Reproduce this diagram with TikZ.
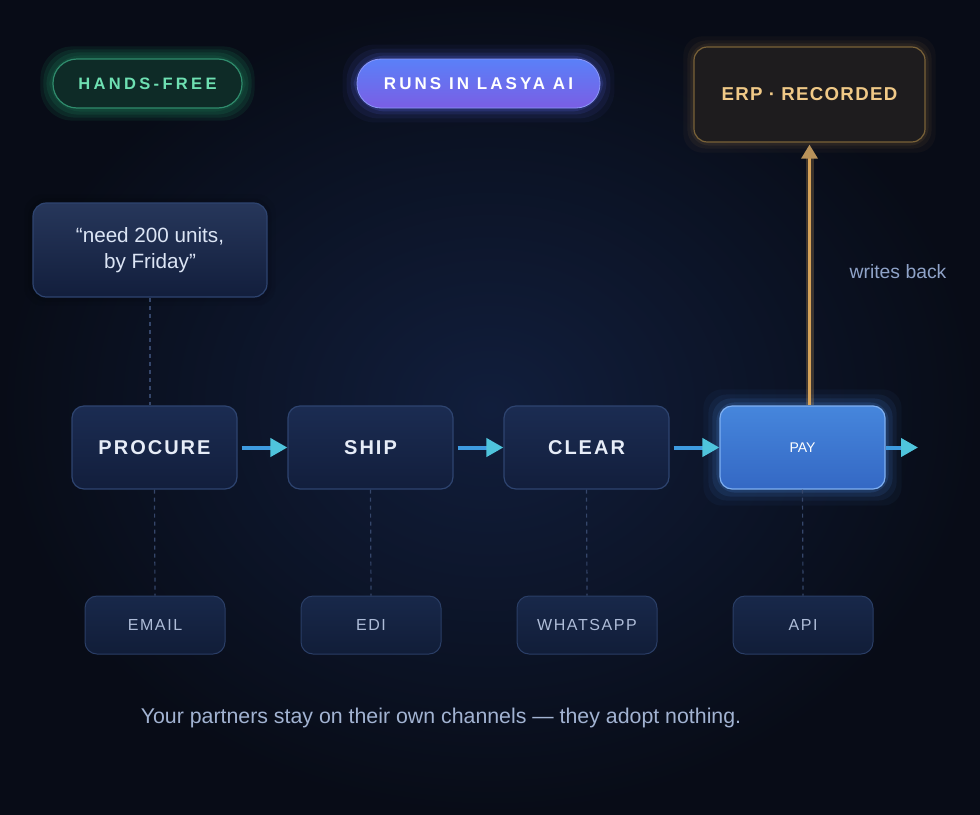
\documentclass[tikz,border=0pt]{standalone}
\usepackage{fontspec}
\setmainfont{Liberation Sans}
\usetikzlibrary{arrows.meta,calc}
\definecolor{bgin}{HTML}{111E3C}
\definecolor{bgout}{HTML}{080C17}
\definecolor{procfillA}{HTML}{1B2C52}
\definecolor{procfillB}{HTML}{121E3C}
\definecolor{procborder}{HTML}{2E4470}
\definecolor{proctext}{HTML}{E6ECF7}
\definecolor{chanfillA}{HTML}{18284A}
\definecolor{chanfillB}{HTML}{111D38}
\definecolor{chanborder}{HTML}{2A3E66}
\definecolor{chantext}{HTML}{AEBCD8}
\definecolor{payA}{HTML}{4686DC}
\definecolor{payB}{HTML}{3468C4}
\definecolor{payborder}{HTML}{7FB0F2}
\definecolor{flowline}{HTML}{3E9BE0}
\definecolor{flowtip}{HTML}{4FC4DC}
\definecolor{dotline}{HTML}{35466A}
\definecolor{hfFill}{HTML}{0E2B27}
\definecolor{hfBorder}{HTML}{2F8B6C}
\definecolor{hfText}{HTML}{6EE0B2}
\definecolor{hfGlow}{HTML}{124A3A}
\definecolor{runA}{HTML}{5A80F8}
\definecolor{runB}{HTML}{7A5EE4}
\definecolor{runGlow}{HTML}{5B6CF5}
\definecolor{erpFill}{HTML}{1E1C1E}
\definecolor{erpBorder}{HTML}{7A6238}
\definecolor{erpText}{HTML}{F0C987}
\definecolor{erpLine}{HTML}{D6A35A}
\definecolor{erpTip}{HTML}{B8925A}
\definecolor{noteText}{HTML}{8FA3C8}
\definecolor{footText}{HTML}{A2B3D2}
\definecolor{quoteText}{HTML}{DCE5F5}
\pgfdeclarelayer{back}
\pgfdeclarelayer{glow}
\pgfsetlayers{back,glow,main}
\tikzset{
  procbox/.style={draw=procborder, line width=0.9pt, top color=procfillA, bottom color=procfillB,
    rounded corners=9pt, minimum width=123.75pt, minimum height=62.25pt, inner sep=0pt,
    text=proctext, font=\fontsize{15}{18}\selectfont\bfseries\addfontfeatures{LetterSpace=10}},
  paybox/.style={procbox, draw=payborder, top color=payA, bottom color=payB, text=white,
    font=\fontsize{10.5}{12}\selectfont},
  chanbox/.style={draw=chanborder, line width=0.75pt, top color=chanfillA, bottom color=chanfillB,
    rounded corners=9pt, minimum width=105pt, minimum height=43.5pt, inner sep=0pt,
    text=chantext, font=\fontsize{12}{14}\selectfont\addfontfeatures{LetterSpace=10}},
  flow/.style={line width=3pt, flowline, -{Triangle[length=12.75pt,width=13.5pt,color=flowtip]}},
  dotted link/.style={dotline, line width=0.9pt, dash pattern=on 3pt off 3pt},
}
\begin{document}
\begin{tikzpicture}[x=0.75pt,y=-0.75pt]
\useasboundingbox (0,0) rectangle (980,814);
\begin{pgfonlayer}{back}
\shade[inner color=bgin, outer color=bgout] (0,0) rectangle (980,814);
\end{pgfonlayer}

% pills
\node[draw=hfBorder, line width=0.9pt, fill=hfFill, rounded corners=18pt, minimum width=141.75pt,
  minimum height=36.75pt, inner sep=0pt, text=hfText,
  font=\fontsize{12.4}{14}\selectfont\bfseries\addfontfeatures{LetterSpace=20}] (hands) at (147.5,83.5) {HANDS-FREE};
\node[draw=runGlow!70!white, line width=0.6pt, top color=runA, bottom color=runB, rounded corners=18pt,
  minimum width=182.25pt, minimum height=36.75pt, inner sep=0pt, text=white,
  font=\fontsize{12.75}{14}\selectfont\bfseries\addfontfeatures{LetterSpace=18}] (runs) at (478.5,83.5) {RUNS IN LASYA AI};
\node[draw=erpBorder, line width=0.9pt, fill=erpFill, rounded corners=10pt, minimum width=173.25pt,
  minimum height=71.25pt, inner sep=0pt, text=erpText,
  font=\fontsize{14}{16}\selectfont\bfseries\addfontfeatures{LetterSpace=7}] (erp) at (809.5,94.5) {ERP\,\,·\,\,RECORDED};

% quote
\node[draw=procborder, line width=0.9pt, top color=procfillA!95!white, bottom color=procfillB, rounded corners=10pt,
  minimum width=175.5pt, minimum height=70.5pt, inner sep=0pt, text=quoteText, align=center,
  font=\fontsize{15.5}{20}\selectfont] (quote) at (150,250) {“need 200 units,\\by Friday”};

% process
\node[procbox] (procure) at (154.5,447.5) {PROCURE};
\node[procbox] (ship) at (370.5,447.5) {SHIP};
\node[procbox] (clear) at (586.5,447.5) {CLEAR};
\node[paybox] (pay) at (802.5,447.5) {PAY};
\coordinate (out) at (918,447.5);

% channels
\node[chanbox] (email) at (155,625) {EMAIL};
\node[chanbox] (edi) at (371,625) {EDI};
\node[chanbox] (whatsapp) at (587,625) {WHATSAPP};
\node[chanbox] (api) at (803,625) {API};

% glows
\begin{pgfonlayer}{glow}
\foreach \e/\o in {12/0.25,9/0.35,6/0.5,3/0.7}
  \fill[hfGlow, opacity=\o, rounded corners=24pt] ($(hands.south west)+(-\e,\e)$) rectangle ($(hands.north east)+(\e,-\e)$);
\foreach \e/\o in {14/0.05,10/0.08,6/0.12,3/0.18}
  \fill[runGlow, opacity=\o, rounded corners=24pt] ($(runs.south west)+(-\e,\e)$) rectangle ($(runs.north east)+(\e,-\e)$);
\foreach \e/\o in {16/0.05,11/0.08,7/0.12,3/0.18}
  \fill[payA, opacity=\o, rounded corners=14pt] ($(pay.south west)+(-\e,\e)$) rectangle ($(pay.north east)+(\e,-\e)$);
\foreach \e/\o in {10/0.04,6/0.06,3/0.08}
  \fill[erpLine, opacity=\o, rounded corners=14pt] ($(erp.south west)+(-\e,\e)$) rectangle ($(erp.north east)+(\e,-\e)$);
\foreach \e/\o in {8/0.05,4/0.08}
  \fill[black, opacity=\o, rounded corners=14pt] ($(quote.south west)+(-\e,\e)$) rectangle ($(quote.north east)+(\e,-\e)$);
\draw[erpLine, opacity=0.25, line width=6pt] (erp.south |- pay.north) -- ($(erp.south)+(0,14)$);
\end{pgfonlayer}

% connectors
\draw[dotted link] (quote.south) -- (quote.south |- procure.north);
\draw[dotted link] (procure.south) -- (email.north);
\draw[dotted link] (ship.south) -- (edi.north);
\draw[dotted link] (clear.south) -- (whatsapp.north);
\draw[dotted link] (pay.south) -- (api.north);

\draw[flow, shorten <=3pt] (procure.east) -- (ship.west);
\draw[flow, shorten <=3pt] (ship.east) -- (clear.west);
\draw[flow, shorten <=3pt] (clear.east) -- (pay.west);
\draw[flow] (pay.east) -- (out);

\draw[erpLine, line width=2.3pt, -{Triangle[length=10.5pt,width=12pt,color=erpTip]}, shorten >=1.5pt]
  (erp.south |- pay.north) -- (erp.south);

\node[text=noteText, font=\fontsize{14.5}{17}\selectfont] (note) at (898,272) {writes back};
\node[text=footText, font=\fontsize{16}{19}\selectfont] (foot) at (441,718) {Your partners stay on their own channels — they adopt nothing.};
\end{tikzpicture}
\end{document}
